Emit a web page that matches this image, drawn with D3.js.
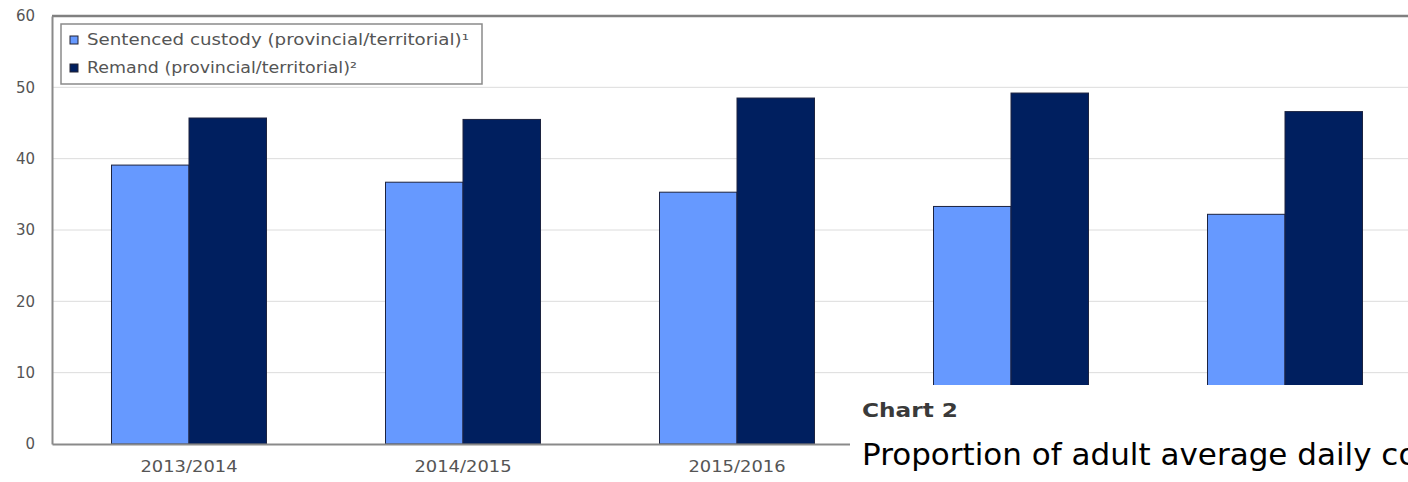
<!DOCTYPE html>
<html>
<head>
<meta charset="utf-8">
<script src="https://cdn.jsdelivr.net/npm/d3@7"></script>
<style>
  html, body { margin: 0; padding: 0; background: #fff; overflow: hidden; }
  svg { display: block; }
</style>
</head>
<body>
<svg id="chart" width="1408" height="482"></svg>
<script>
const categories = ["2013/2014", "2014/2015", "2015/2016", "2016/2017", "2017/2018"];
const seriesNames = ["Sentenced custody (provincial/territorial)\u00B9", "Remand (provincial/territorial)\u00B2"];
const sentenced = [39.1, 36.7, 35.3, 33.3, 32.2];
const remand = [45.7, 45.5, 48.5, 49.2, 46.6];
const yTicks = [0, 10, 20, 30, 40, 50, 60];
const overlayLabel = "Chart 2";
const overlayTitle = "Proportion of adult average daily counts of adults in provincial and territorial custody";

(function () {
const colors = ["#6699ff", "#001f5f"];
const W = 1408, H = 482;
const mLeft = 52, mTop = 16, mBottom = 444;
const overlayX = 850, overlayY = 385;
const font = "Verdana, 'DejaVu Sans', sans-serif";
const svg = d3.select("#chart");

const x = d3.scaleBand().domain(categories).range([mLeft, mLeft + 5 * 274]);
const y = d3.scaleLinear().domain([0, 60]).range([mBottom, mTop]);

// gridlines
svg.append("g").selectAll("line").data(yTicks.filter(d => d > 0 && d < 60)).join("line")
  .attr("x1", mLeft).attr("x2", W).attr("y1", d => y(d)).attr("y2", d => y(d))
  .attr("stroke", "#dcdcdc").attr("stroke-width", 1);

// top frame line
svg.append("line").attr("x1", mLeft).attr("x2", W).attr("y1", y(60)).attr("y2", y(60))
  .attr("stroke", "#808080").attr("stroke-width", 2.5);

// y axis
const yAxis = d3.axisLeft(y).tickValues(yTicks).tickSize(0).tickPadding(17);
const gy = svg.append("g").attr("transform", `translate(${mLeft},0)`).call(yAxis);
gy.select(".domain").attr("stroke", "#8a8a8a").attr("stroke-width", 2);
gy.selectAll("text").attr("font-family", font).attr("font-size", 15).attr("fill", "#555");

// bars
const data = categories.map((c, i) => ({ c, vals: [sentenced[i], remand[i]] }));
const bw = 77.5;
const g = svg.append("g");
data.forEach(d => {
  const cx = x(d.c) + x.bandwidth() / 2;
  d.vals.forEach((v, j) => {
    g.append("rect")
      .attr("x", cx - bw + j * bw)
      .attr("y", y(v))
      .attr("width", bw)
      .attr("height", y(0) - y(v))
      .attr("fill", colors[j])
      .attr("stroke", "#1c2340")
      .attr("stroke-width", 1);
  });
});

// x axis
const xAxis = d3.axisBottom(x).tickSize(0).tickPadding(17);
const gx = svg.append("g").attr("transform", `translate(0,${mBottom})`).call(xAxis);
gx.select(".domain").attr("stroke", "#8a8a8a").attr("stroke-width", 2);
gx.selectAll("text").attr("font-family", font).attr("font-size", 16).attr("fill", "#555")
  .attr("textLength", 97).attr("lengthAdjust", "spacingAndGlyphs");
// labels lying under the overlay header are hidden in the reference
gx.selectAll(".tick").filter(d => x(d) + x.bandwidth() / 2 > overlayX).remove();

// legend
const lg = svg.append("g");
lg.append("rect").attr("x", 61).attr("y", 24).attr("width", 421).attr("height", 60)
  .attr("fill", "#fff").attr("stroke", "#8a8a8a").attr("stroke-width", 1.5);
const legendLens = [382, 270];
seriesNames.forEach((s, i) => {
  const yy = 40 + i * 28;
  lg.append("rect").attr("x", 70).attr("y", yy - 4).attr("width", 8).attr("height", 8)
    .attr("fill", colors[i]).attr("stroke", "#223").attr("stroke-width", 1);
  lg.append("text").attr("x", 87).attr("y", yy + 5).text(s)
    .attr("font-family", font).attr("font-size", 15).attr("fill", "#555")
    .attr("textLength", legendLens[i]).attr("lengthAdjust", "spacingAndGlyphs");
});

// overlay header box
svg.append("rect").attr("x", overlayX).attr("y", overlayY).attr("width", W - overlayX).attr("height", H - overlayY).attr("fill", "#fff");
svg.append("text").attr("x", 862).attr("y", 417).text(overlayLabel)
  .attr("font-family", "'DejaVu Sans', Verdana, sans-serif").attr("font-weight", "bold")
  .attr("font-size", 19).attr("fill", "#3a3a3a")
  .attr("textLength", 96).attr("lengthAdjust", "spacingAndGlyphs");
svg.append("text").attr("x", 862).attr("y", 465).text(overlayTitle)
  .attr("font-family", "'DejaVu Sans', Verdana, sans-serif")
  .attr("font-size", 31).attr("fill", "#000");
})();
</script>
</body>
</html>
